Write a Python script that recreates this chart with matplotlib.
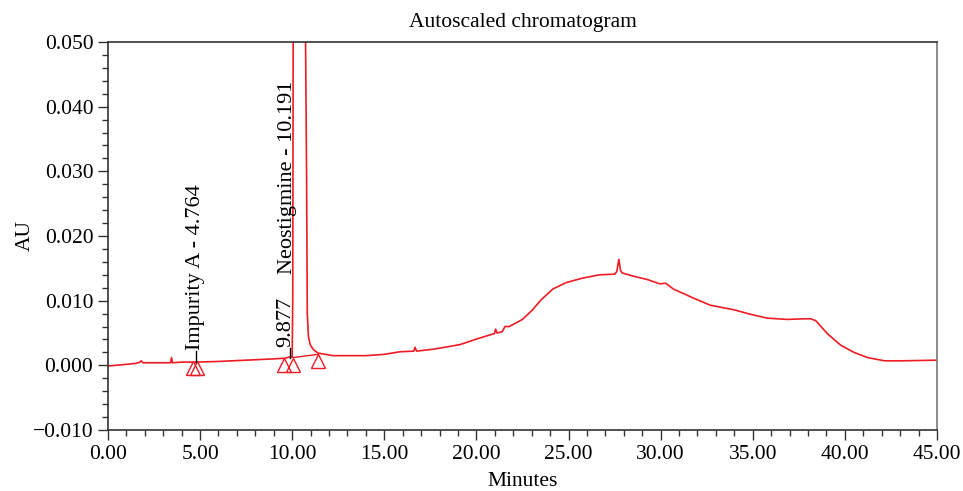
import numpy as np
import matplotlib
matplotlib.use('Agg')
import matplotlib.pyplot as plt
from matplotlib.ticker import MultipleLocator, FuncFormatter

plt.rcParams['font.family'] = ['Liberation Serif', 'DejaVu Serif']

# chromatogram trace (minutes, AU)
minutes = [0.0, 0.8, 1.5, 1.75, 1.8, 1.9, 2.5, 3.4, 3.45, 3.5, 4.0, 4.76, 6.0,
           7.5, 9.0, 9.6, 9.877, 10.0, 10.03, 10.06, 10.191, 10.7, 10.78, 10.82,
           10.88, 10.98, 11.13, 11.4, 12.2, 14.0, 15.0, 15.85, 16.6, 16.67, 16.75,
           17.67, 19.1, 20.04, 20.85, 20.98, 21.04, 21.12, 21.4, 21.55, 21.78,
           22.5, 23.05, 23.5, 24.15, 24.87, 25.78, 26.69, 27.5, 27.62, 27.73,
           27.82, 27.9, 28.5, 29.24, 29.96, 30.27, 30.69, 31.78, 32.69, 33.96,
           34.87, 35.78, 36.87, 37.8, 38.15, 38.42, 39.05, 39.78, 40.5, 41.24,
           42.15, 43.05, 45.0]
au = [-0.0001, 0.0001, 0.0003, 0.0005, 0.0007, 0.0004, 0.0004, 0.0004, 0.0012,
      0.0004, 0.0005, 0.0005, 0.0006, 0.0008, 0.0010, 0.0011, 0.0013, 0.0013,
      0.01, 0.06, 0.25, 0.06, 0.03, 0.008, 0.0045, 0.0032, 0.0025, 0.0019,
      0.0015, 0.0015, 0.0017, 0.0021, 0.0022, 0.0028, 0.0022, 0.0025, 0.0032,
      0.0041, 0.0048, 0.0049, 0.0056, 0.0050, 0.0052, 0.0060, 0.0060, 0.0071,
      0.0086, 0.0101, 0.0118, 0.0128, 0.0135, 0.0140, 0.0141, 0.0145, 0.0164,
      0.0147, 0.0143, 0.0138, 0.0133, 0.0126, 0.0127, 0.0118, 0.0104, 0.0093,
      0.0086, 0.0079, 0.0073, 0.0071, 0.0072, 0.0072, 0.0069, 0.0049, 0.0031,
      0.0020, 0.0012, 0.0007, 0.0007, 0.0008]

# peak start/end markers
mark_t = [4.64, 4.85, 9.58, 10.04, 11.4]
mark_au = [-0.0004, -0.0004, 0.0000, 0.0000, 0.0007]

# baseline under the main peak
base_t = [10.04, 11.4]
base_au = [0.0012, 0.0017]

# peak labels: (time, trace level, text, x pos, text bottom)
labels = [
    (4.764, 0.0005, 'Impurity A - 4.764', 4.764, 0.0024),
    (9.877, 0.0011, '9.877', 9.66, 0.0029),
]
neo_label = 'Neostigmine - 10.191'

red = '#ee1c24'
fs = 15.5
fig = plt.figure(figsize=(9.63, 4.91), dpi=100)
ax = fig.add_axes([0.1121, 0.1242, 0.8609, 0.7903])

ax.plot(minutes, au, color=red, lw=1.2)
ax.plot(base_t, base_au, color=red, lw=1.0)
ax.plot(mark_t, mark_au, ls='none', marker='^', ms=9.5, mfc='none',
        mec=red, mew=1.0, clip_on=False)

for t, lvl, txt, xt, yb in labels:
    ax.plot([t, t], [lvl, yb - 0.0002], color='k', lw=1.0)
    ax.text(xt, yb, txt, rotation=90, ha='center', va='bottom', fontsize=16)
ax.text(9.76, 0.0141, neo_label, rotation=90, ha='center', va='bottom', fontsize=16)

ax.set_xlim(0, 45)
ax.set_ylim(-0.010, 0.050)
ax.xaxis.set_major_locator(MultipleLocator(5))
ax.xaxis.set_minor_locator(MultipleLocator(1))
ax.yaxis.set_major_locator(MultipleLocator(0.01))
ax.yaxis.set_minor_locator(MultipleLocator(0.002))
ax.xaxis.set_major_formatter(FuncFormatter(lambda v, p: '%.2f' % v))
ax.yaxis.set_major_formatter(FuncFormatter(lambda v, p: ('%.3f' % v).replace('-', '\u2212')))
ax.tick_params(which='major', length=7, width=1.0, labelsize=fs, color='#333333')
ax.tick_params(which='minor', length=4, width=1.0, color='#333333')
ax.tick_params(top=False, right=False)
for s in ax.spines.values():
    s.set_color('#333333')
    s.set_linewidth(1.2)
ax.spines['right'].set_color('#777777')

ax.set_title('Autoscaled chromatogram', fontsize=fs, pad=11)
ax.set_xlabel('Minutes', fontsize=fs, labelpad=6)
ax.set_ylabel('AU', fontsize=fs, labelpad=-1.5)

fig.savefig('out.png', dpi=100)
